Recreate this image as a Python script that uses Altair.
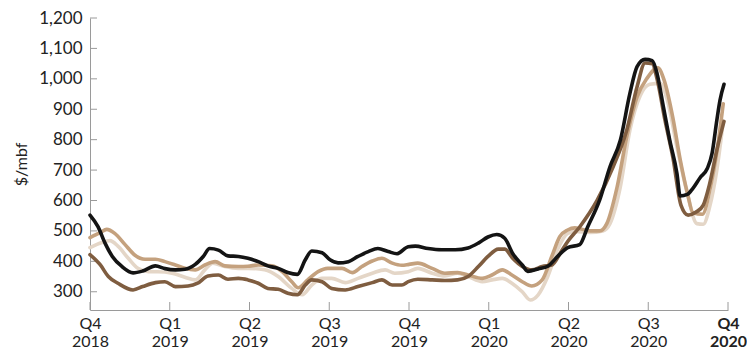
import altair as alt
import pandas as pd

# x = quarters elapsed since Q4 2018 (0 = Q4 2018, 8 = Q4 2020); y = $/mbf
black_q = [0.00, 0.10, 0.19, 0.28, 0.40, 0.54, 0.66, 0.82, 0.94, 1.07, 1.19, 1.32, 1.42, 1.50, 1.61, 1.73, 1.86, 1.98,
           2.11, 2.23, 2.36, 2.48, 2.60, 2.70, 2.78, 2.91, 3.01, 3.11, 3.24, 3.36, 3.49, 3.61, 3.74, 3.85, 3.99,
           4.08, 4.24, 4.41, 4.58, 4.74, 4.87, 4.99, 5.10, 5.20, 5.30, 5.42, 5.49, 5.62, 5.74, 5.87, 5.99,
           6.14, 6.24, 6.39, 6.52, 6.65, 6.77, 6.86, 6.96, 7.05, 7.11, 7.19, 7.27, 7.36, 7.40, 7.49, 7.56, 7.65,
           7.74, 7.80, 7.86, 7.90, 7.95]
black_v = [552, 514, 459, 416, 383, 362, 368, 385, 376, 372, 374, 390, 416, 442, 437, 418, 416, 410,
           399, 385, 377, 363, 357, 405, 434, 428, 405, 395, 399, 416, 432, 442, 432, 425, 448,
           450, 442, 438, 438, 444, 460, 480, 488, 476, 426, 388, 367, 375, 384, 418, 445,
           455, 513, 601, 711, 798, 952, 1040, 1064, 1060, 1018, 908, 798, 689, 615, 620, 640, 675,
           705, 755, 864, 930, 982]

tan_q = [0.00, 0.13, 0.21, 0.31, 0.44, 0.56, 0.69, 0.82, 0.94, 1.07, 1.19, 1.32, 1.44, 1.57, 1.69, 1.86, 1.98,
         2.11, 2.28, 2.41, 2.53, 2.61, 2.73, 2.86, 2.98, 3.16, 3.29, 3.41, 3.54, 3.66, 3.79, 3.91, 4.00,
         4.11, 4.29, 4.45, 4.61, 4.74, 4.92, 5.04, 5.17, 5.29, 5.42, 5.54, 5.67, 5.79, 5.89, 5.99,
         6.08, 6.27, 6.39, 6.48, 6.61, 6.73, 6.86, 6.98, 7.12, 7.20, 7.31, 7.40, 7.49, 7.56, 7.68,
         7.78, 7.86, 7.94]
tan_v = [478, 495, 505, 492, 455, 421, 407, 407, 399, 388, 377, 372, 388, 399, 385, 383, 384,
         388, 385, 366, 333, 313, 339, 366, 377, 377, 363, 383, 401, 410, 394, 387, 390,
         394, 377, 361, 363, 355, 344, 355, 372, 355, 333, 319, 339, 416, 481, 503,
         510, 500, 500, 524, 645, 809, 941, 1000, 1036, 995, 870, 735, 625, 560, 555,
         645, 760, 918]

light_q = [0.00, 0.15, 0.25, 0.35, 0.48, 0.60, 0.73, 0.85, 1.03, 1.19, 1.32, 1.44, 1.54, 1.69, 1.86, 1.98,
           2.19, 2.36, 2.53, 2.66, 2.78, 2.91, 3.03, 3.20, 3.36, 3.54, 3.70, 3.82, 3.99,
           4.11, 4.29, 4.45, 4.61, 4.74, 4.92, 5.04, 5.17, 5.29, 5.42, 5.52, 5.62, 5.74, 5.86, 5.99,
           6.08, 6.27, 6.43, 6.52, 6.65, 6.77, 6.90, 7.02, 7.15, 7.24, 7.36, 7.49, 7.61, 7.69,
           7.77, 7.86, 7.94]
light_v = [445, 462, 468, 450, 410, 377, 366, 366, 361, 348, 339, 372, 394, 383, 377, 377,
           372, 350, 311, 290, 322, 344, 344, 330, 344, 361, 372, 361, 366,
           377, 361, 352, 361, 350, 333, 339, 344, 328, 300, 273, 290, 350, 437, 492,
           498, 495, 500, 524, 645, 831, 945, 982, 985, 930, 776, 623, 524, 522,
           579, 700, 860]

brown_q = [0.00, 0.13, 0.23, 0.35, 0.54, 0.66, 0.82, 0.94, 1.07, 1.23, 1.35, 1.48, 1.61, 1.73, 1.86, 1.98,
           2.11, 2.23, 2.36, 2.48, 2.60, 2.70, 2.78, 2.91, 3.03, 3.20, 3.36, 3.54, 3.66, 3.79, 3.91, 3.99,
           4.11, 4.29, 4.45, 4.61, 4.74, 4.87, 4.99, 5.12, 5.20, 5.30, 5.42, 5.54, 5.67, 5.79, 5.92, 5.99,
           6.14, 6.36, 6.56, 6.73, 6.86, 6.96, 7.05, 7.11, 7.21, 7.31, 7.41, 7.50, 7.60, 7.69,
           7.77, 7.86, 7.95]
brown_v = [422, 388, 350, 328, 306, 317, 330, 333, 317, 319, 328, 352, 355, 341, 344, 339,
           328, 311, 308, 295, 290, 322, 339, 333, 311, 306, 317, 330, 339, 322, 322, 333,
           341, 339, 337, 339, 350, 383, 416, 440, 440, 410, 383, 372, 383, 388, 437, 465,
           513, 601, 711, 831, 974, 1052, 1050, 1000, 864, 740, 585, 552, 562, 585,
           655, 766, 860]

quarter_labels = [["Q4", "2018"], ["Q1", "2019"], ["Q2", "2019"], ["Q3", "2019"], ["Q4", "2019"],
                  ["Q1", "2020"], ["Q2", "2020"], ["Q3", "2020"], ["Q4", "2020"]]
quarter_ticks = list(range(9))
y_ticks = [300, 400, 500, 600, 700, 800, 900, 1000, 1100, 1200]

series = [
    ("light", light_q, light_v, "#e4d6c7"),
    ("tan", tan_q, tan_v, "#c4a17e"),
    ("brown", brown_q, brown_v, "#7f5d40"),
    ("black", black_q, black_v, "#141414"),
]

W, H = 638, 292
FONT = "Lato"
xscale = alt.Scale(domain=[0, 8], nice=False, zero=False)
yscale = alt.Scale(domain=[240, 1200], nice=False, zero=False)

label_expr = "%s[datum.value]" % str(quarter_labels).replace('"', "'")

xaxis = alt.Axis(values=quarter_ticks, labelExpr=label_expr, title=None, grid=False, ticks=False,
                 domainColor="#9a9a9a", domainWidth=1, labelFont=FONT, labelFontSize=16,
                 labelLineHeight=18, labelPadding=5, labelColor="#222222", labelAngle=0,
                 labelFlush=False, labelAlign="center", labelOverlap=False,
                 labelFontWeight={"expr": "datum.value == 8 ? 'bold' : 'normal'"})
yaxis = alt.Axis(values=y_ticks, format=",.0f", title="$/mbf", grid=False, ticks=False,
                 domainColor="#9a9a9a", domainWidth=1, labelFont=FONT, labelFontSize=17,
                 labelPadding=8, labelColor="#222222", titleFont=FONT, titleFontSize=16,
                 labelFlush=False, labelOverlap=False,
                 titleFontWeight="normal", titleColor="#222222", titlePadding=9)

layers = []
for name, qs, vs, col in series:
    df = pd.DataFrame({"q": qs, "v": vs})
    layers.append(alt.Chart(df).mark_line(color=col, strokeWidth=3.6, interpolate="monotone",
                                           strokeCap="round", strokeJoin="round").encode(
        x=alt.X("q:Q", scale=xscale, axis=xaxis),
        y=alt.Y("v:Q", scale=yscale, axis=yaxis),
    ))

ytick_df = pd.DataFrame({"v": y_ticks})
ytick_layer = alt.Chart(ytick_df).mark_rule(color="#9a9a9a", strokeWidth=1).encode(
    y=alt.Y("v:Q", scale=yscale, axis=yaxis), x=alt.value(0), x2=alt.value(7))
xtick_df = pd.DataFrame({"q": quarter_ticks})
xtick_layer = alt.Chart(xtick_df).mark_rule(color="#9a9a9a", strokeWidth=1).encode(
    x=alt.X("q:Q", scale=xscale, axis=xaxis), y=alt.value(H), y2=alt.value(H - 8))

chart = alt.layer(ytick_layer, xtick_layer, *layers).properties(
    width=W, height=H,
    autosize=alt.AutoSizeParams(type="none"),
    padding={"left": 90, "top": 18, "right": 19, "bottom": 41},
    background="white",
).configure_view(stroke=None)

chart.save("out.html", embed_options={"renderer": "svg", "actions": False})
